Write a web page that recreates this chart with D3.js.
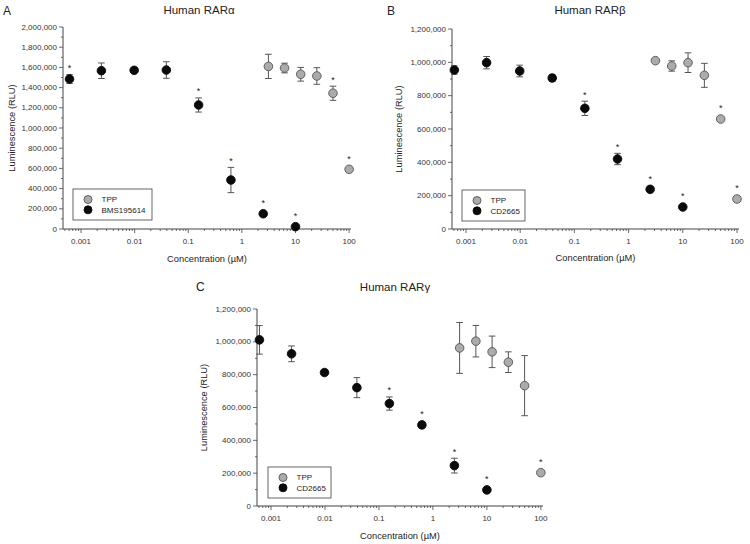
<!DOCTYPE html>
<html>
<head>
<meta charset="utf-8">
<script src="https://cdn.jsdelivr.net/npm/d3@7"></script>
<style>
  body { margin: 0; background: #fff; }
  svg { font-family: Arial, "Liberation Sans", sans-serif; }
  .tick-label { font-size: 8px; fill: #333; }
  .axis-label { font-size: 9.3px; fill: #222; }
  .title { font-size: 11.5px; fill: #222; }
  .letter { font-size: 12px; fill: #222; }
  .legend-text { font-size: 8px; fill: #222; }
</style>
</head>
<body>
<svg id="chart" width="750" height="544"></svg>
<script>
// concentrations (µM)
const agonistConc = [0.00061, 0.0024, 0.0098, 0.039, 0.156, 0.625, 2.5, 10];
const tppConc = [3.125, 6.25, 12.5, 25, 50, 100];
const xTickValues = [0.001, 0.01, 0.1, 1, 10, 100];

// A: Human RARα
const bmsMean = [1485000, 1567000, 1571000, 1574000, 1228000, 485000, 151000, 23000];
const bmsErr  = [43000, 77000, 0, 82000, 70000, 125000, 0, 0];
const bmsSig  = [1, 0, 0, 0, 1, 1, 1, 1];
const tppAMean = [1610000, 1594000, 1532000, 1515000, 1344000, 591000];
const tppAErr  = [120000, 48000, 68000, 82000, 70000, 0];
const tppASig  = [0, 0, 0, 0, 1, 1];

// B: Human RARβ
const cdBMean = [954000, 998000, 948000, 906000, 724000, 420000, 238000, 132000];
const cdBErr  = [25000, 37000, 35000, 20000, 43000, 34000, 0, 0];
const cdBSig  = [0, 0, 0, 0, 1, 1, 1, 1];
const tppBMean = [1010000, 978000, 998000, 922000, 660000, 180000];
const tppBErr  = [0, 31000, 59000, 72000, 0, 0];
const tppBSig  = [0, 0, 0, 0, 1, 1];

// C: Human RARγ
const cdCMean = [1012000, 927000, 813000, 721000, 624000, 494000, 246000, 98000];
const cdCErr  = [87000, 48000, 0, 61000, 40000, 18000, 45000, 0];
const cdCSig  = [0, 0, 0, 0, 1, 1, 1, 1];
const tppCMean = [963000, 1004000, 939000, 876000, 733000, 203000];
const tppCErr  = [155000, 96000, 96000, 63000, 183000, 0];
const tppCSig  = [0, 0, 0, 0, 0, 1];

const svg = d3.select("#chart");
const fmt = d3.format(",");

function series(conc, mean, err, sig) {
  return conc.map((c, i) => ({ c: c, m: mean[i], e: err[i], s: sig[i] }));
}

function drawPanel(p) {
  const g = svg.append("g");
  const x = d3.scaleLog().domain([Math.pow(10, p.logMin), Math.pow(10, p.logMax)]).range([p.x0, p.x1]);
  const y = d3.scaleLinear().domain([0, p.yMax]).range([p.y0, p.y1]);
  const axisColor = "#444";

  // y axis line + ticks
  g.append("line").attr("x1", p.x0).attr("x2", p.x0).attr("y1", p.y0).attr("y2", p.y1)
    .attr("stroke", axisColor).attr("stroke-width", 1);
  d3.range(0, p.yMax + 1, 100000).forEach(v => {
    const major = v % 200000 === 0;
    g.append("line").attr("x1", p.x0).attr("x2", p.x0 - (major ? 4 : 2))
      .attr("y1", y(v)).attr("y2", y(v)).attr("stroke", axisColor).attr("stroke-width", 0.8);
    if (major) {
      g.append("text").attr("class", "tick-label")
        .attr("x", p.x0 - 6).attr("y", y(v)).attr("dy", "0.33em")
        .attr("text-anchor", "end").text(fmt(v));
    }
  });

  // x axis line + ticks
  g.append("line").attr("x1", p.x0).attr("x2", p.x1).attr("y1", p.y0).attr("y2", p.y0)
    .attr("stroke", axisColor).attr("stroke-width", 1);
  const dom = x.domain();
  for (let e = -4; e <= 2; e++) {
    for (let m = 1; m <= 9; m++) {
      const v = m * Math.pow(10, e);
      if (v < dom[0] || v > dom[1] * 1.0001) continue;
      const major = m === 1;
      g.append("line").attr("x1", x(v)).attr("x2", x(v))
        .attr("y1", p.y0).attr("y2", p.y0 + (major ? 4 : 2))
        .attr("stroke", axisColor).attr("stroke-width", 0.8);
    }
  }
  xTickValues.forEach(v => {
    g.append("text").attr("class", "tick-label")
      .attr("x", x(v)).attr("y", p.y0 + 15).attr("text-anchor", "middle").text(String(v));
  });

  // labels
  g.append("text").attr("class", "axis-label").attr("text-anchor", "middle")
    .attr("x", (p.x0 + p.x1) / 2).attr("y", p.xLabelY).text("Concentration (\u00b5M)");
  g.append("text").attr("class", "axis-label").attr("text-anchor", "middle")
    .attr("transform", `translate(${p.yLabelX},${(p.y0 + p.y1) / 2}) rotate(-90)`)
    .text("Luminescence (RLU)");
  g.append("text").attr("class", "title").attr("text-anchor", "middle")
    .attr("x", p.titleX).attr("y", p.titleY).text(p.title);
  g.append("text").attr("class", "letter")
    .attr("x", p.letterX).attr("y", p.letterY).text(p.letter);

  // data
  const r = 4.3;
  function drawSeries(data, fill, stroke) {
    data.forEach(d => {
      const cx = x(d.c), cy = y(d.m);
      let top = cy - r;
      if (d.e > 0) {
        const yt = y(d.m + d.e), yb = y(d.m - d.e);
        g.append("line").attr("x1", cx).attr("x2", cx).attr("y1", yt).attr("y2", yb)
          .attr("stroke", "#555").attr("stroke-width", 1);
        [yt, yb].forEach(yy => g.append("line").attr("x1", cx - 3.3).attr("x2", cx + 3.3)
          .attr("y1", yy).attr("y2", yy).attr("stroke", "#555").attr("stroke-width", 1));
        top = Math.min(top, yt);
      }
      g.append("circle").attr("cx", cx).attr("cy", cy).attr("r", r)
        .attr("fill", fill).attr("stroke", stroke).attr("stroke-width", 0.9);
      if (d.s) {
        g.append("text").attr("x", cx).attr("y", top - 3.5)
          .attr("text-anchor", "middle").attr("font-size", 9).attr("fill", "#222").text("*");
      }
    });
  }
  drawSeries(p.tpp, "#ababab", "#555");
  drawSeries(p.agonist, "#0a0a0a", "#0a0a0a");

  // legend
  const L = p.legend;
  g.append("rect").attr("x", L.x).attr("y", L.y).attr("width", L.w).attr("height", L.h)
    .attr("fill", "#fff").attr("stroke", "#555").attr("stroke-width", 0.9);
  [[p.tppName, "#ababab", "#555"], [p.agonistName, "#0a0a0a", "#0a0a0a"]].forEach((it, i) => {
    const cy = L.y + 10.5 + i * 10.3;
    g.append("circle").attr("cx", L.x + 15).attr("cy", cy).attr("r", 4)
      .attr("fill", it[1]).attr("stroke", it[2]).attr("stroke-width", 0.9);
    g.append("text").attr("class", "legend-text").attr("x", L.x + 28.5).attr("y", cy)
      .attr("dy", "0.35em").text(it[0]);
  });
}

drawPanel({
  letter: "A", letterX: 3, letterY: 14.5, title: "Human RAR\u03b1", titleX: 199, titleY: 14,
  x0: 63, x1: 351, logMin: -3.336, logMax: 2.035, y0: 229, y1: 27, yMax: 2000000,
  xLabelY: 262, yLabelX: 14.5,
  agonist: series(agonistConc, bmsMean, bmsErr, bmsSig), agonistName: "BMS195614",
  tpp: series(tppConc, tppAMean, tppAErr, tppASig), tppName: "TPP",
  legend: { x: 73, y: 189, w: 79, h: 31 }
});

drawPanel({
  letter: "B", letterX: 387, letterY: 14.5, title: "Human RAR\u03b2", titleX: 590, titleY: 14,
  x0: 452, x1: 739, logMin: -3.258, logMax: 2.037, y0: 229, y1: 29, yMax: 1200000,
  xLabelY: 261, yLabelX: 402,
  agonist: series(agonistConc, cdBMean, cdBErr, cdBSig), agonistName: "CD2665",
  tpp: series(tppConc, tppBMean, tppBErr, tppBSig), tppName: "TPP",
  legend: { x: 462, y: 190, w: 63, h: 31 }
});

drawPanel({
  letter: "C", letterX: 196, letterY: 290.5, title: "Human RAR\u03b3", titleX: 395, titleY: 291,
  x0: 257, x1: 543, logMin: -3.26, logMax: 2.04, y0: 506, y1: 309, yMax: 1200000,
  xLabelY: 538.5, yLabelX: 206.5,
  agonist: series(agonistConc, cdCMean, cdCErr, cdCSig), agonistName: "CD2665",
  tpp: series(tppConc, tppCMean, tppCErr, tppCSig), tppName: "TPP",
  legend: { x: 268, y: 467, w: 63, h: 31 }
});
</script>
</body>
</html>
